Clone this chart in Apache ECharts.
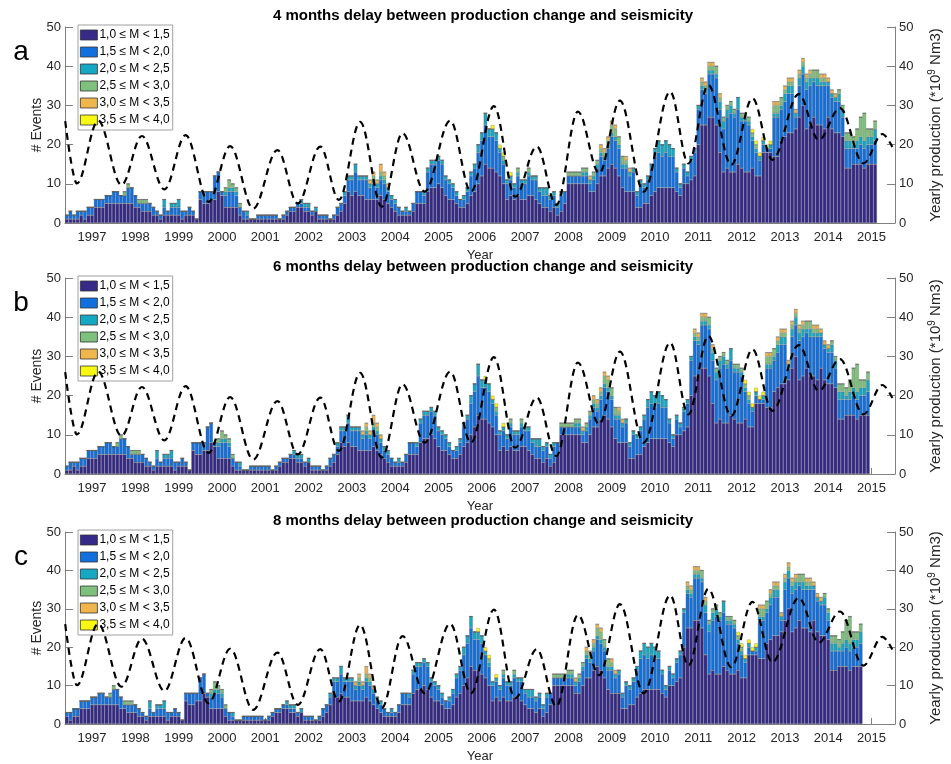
<!DOCTYPE html>
<html>
<head>
<meta charset="utf-8">
<title>Production change and seismicity</title>
<script src="https://cdn.jsdelivr.net/npm/echarts@6/dist/echarts.min.js"></script>
<style>
html, body { margin: 0; padding: 0; background: #fff; }
#chart { width: 951px; height: 764px; }
</style>
</head>
<body>
<div id="chart"></div>
<script>
// monthly number of events per magnitude class, one row per year (1996 starts in Oct, 2015 ends in Feb)
var m10 = [
  1,1,1,1,2,1,2,
  2,4,4,4,5,5,5,5,5,5,5,5,
  4,4,3,3,3,2,2,1,2,2,2,2,
  2,1,2,2,2,1,6,5,5,6,6,8,
  7,4,4,4,4,2,1,1,1,1,1,1,
  1,1,1,1,1,1,2,3,3,4,4,3,
  3,2,3,1,1,1,1,1,2,3,5,8,
  7,8,7,7,6,6,6,6,7,6,5,4,
  3,2,2,2,2,3,5,5,5,8,9,9,
  10,9,7,6,6,5,4,4,5,7,8,10,
  12,15,14,14,13,12,10,6,7,6,7,6,
  6,7,7,6,5,4,4,3,4,2,3,5,
  10,10,10,10,10,10,8,8,10,12,12,14,
  15,14,12,9,8,8,8,4,4,5,5,7,
  8,9,9,9,9,9,8,7,10,10,11,12,
  20,25,25,27,27,25,18,13,14,13,13,15,
  14,13,13,14,12,12,18,18,18,17,17,21,
  22,23,23,24,27,30,24,25,27,25,25,24,
  27,24,23,23,22,14,14,15,15,15,14,15,
  15,15
];
var m15 = [
  1,2,1,2,1,2,2,
  2,2,2,2,2,2,3,3,2,2,4,4,
  3,1,2,2,2,2,1,1,2,1,2,2,
  2,2,1,2,1,0,2,3,3,2,6,5,
  1,3,4,4,3,2,2,1,0,0,1,1,
  1,1,1,1,0,1,1,1,1,1,1,1,
  1,1,0,1,1,1,0,1,2,2,2,3,
  4,5,4,4,5,3,4,3,4,4,3,2,
  2,2,1,1,1,2,3,3,2,5,6,6,
  6,6,4,4,3,2,2,2,3,5,6,8,
  9,10,8,8,8,6,5,4,4,3,5,4,
  4,5,4,5,3,3,3,3,3,2,4,3,
  2,2,2,2,2,2,2,3,4,5,4,5,
  7,7,7,5,6,4,5,3,6,4,6,7,
  9,9,8,9,8,8,5,2,4,2,5,6,
  9,9,8,11,11,12,11,11,13,15,14,14,
  12,13,12,7,6,4,2,1,1,10,10,8,
  9,10,10,3,8,8,10,10,9,10,10,11,
  8,8,8,8,5,5,5,4,4,5,5,5,
  5,6
];
var m20 = [
  0,0,0,0,0,0,0,
  0,0,0,0,0,0,0,0,0,0,0,0,
  0,0,0,0,0,0,0,0,2,0,1,1,
  2,0,0,0,0,0,0,0,0,0,0,0,
  0,1,1,1,1,0,0,1,0,0,0,0,
  0,0,0,0,0,0,0,0,0,0,1,1,
  1,0,1,0,0,0,0,0,0,0,1,1,
  1,2,1,1,1,1,1,1,1,1,1,1,
  1,0,0,1,0,0,0,0,1,1,1,1,
  1,1,1,1,1,1,0,1,1,1,1,2,
  2,3,2,2,2,1,1,1,1,1,1,1,
  1,1,1,1,1,2,2,1,1,1,1,0,
  0,0,0,0,1,1,1,1,1,1,1,1,
  1,1,1,1,1,1,1,1,1,1,1,1,
  2,3,3,3,3,2,1,1,1,1,1,1,
  1,1,1,1,1,1,2,2,2,2,1,3,
  1,1,1,1,1,1,1,0,1,1,1,1,
  2,2,2,1,2,2,2,2,1,2,1,1,
  1,1,1,2,2,2,2,1,2,2,2,2,
  2,3
];
var m25 = [
  0,0,0,0,0,0,0,
  0,0,0,0,0,0,0,0,0,1,1,0,
  0,1,1,1,0,0,0,0,0,0,0,0,
  0,0,0,0,0,0,0,0,0,0,0,0,
  0,1,2,1,1,1,0,0,0,0,0,0,
  0,0,0,0,0,0,0,0,0,0,0,0,
  0,0,0,0,0,0,0,0,0,0,0,0,
  0,0,0,0,0,0,1,0,1,1,0,0,
  0,0,0,0,0,0,0,0,0,0,0,0,
  0,0,0,0,0,0,0,0,0,0,0,0,
  0,0,0,0,0,0,1,0,0,0,1,0,
  0,1,0,0,0,0,0,0,0,0,0,0,
  1,1,1,1,1,1,0,1,1,1,1,1,
  2,2,2,2,1,0,0,0,0,0,0,0,
  0,0,0,0,0,0,0,0,0,0,0,0,
  0,1,1,1,1,2,1,1,1,1,1,0,
  1,1,1,1,1,0,0,0,0,2,2,2,
  1,1,1,0,1,1,1,1,2,2,1,1,
  0,0,0,1,1,2,2,2,3,5,7,2,
  2,2
];
var m30 = [
  0,0,0,0,0,0,0,
  0,0,0,0,0,0,0,0,0,0,0,0,
  0,0,0,0,0,0,0,0,0,0,0,0,
  0,0,0,0,0,0,0,0,0,0,0,0,
  0,0,0,0,0,0,0,0,0,0,0,0,
  0,0,0,0,0,0,0,0,0,0,0,0,
  0,0,0,0,0,0,0,0,0,0,0,0,
  0,0,0,0,0,1,1,1,2,1,1,0,
  0,0,0,0,0,0,0,0,0,0,0,0,
  0,0,0,0,0,0,0,0,0,0,0,0,
  0,0,0,0,0,0,0,0,0,0,0,0,
  0,0,0,0,0,0,0,0,0,0,0,0,
  0,0,0,0,0,0,1,0,0,1,1,1,
  1,1,0,0,1,1,0,0,0,0,0,0,
  0,0,0,0,0,0,0,0,0,0,0,0,
  0,1,1,1,1,0,1,0,0,0,0,0,
  0,0,0,0,0,0,0,0,0,1,1,0,
  1,1,1,1,1,1,1,1,0,0,1,1,
  1,1,1,0,0,0,0,0,0,0,0,0,
  0,0
];
var m35 = [
  0,0,0,0,0,0,0,
  0,0,0,0,0,0,0,0,0,0,0,0,
  0,0,0,0,0,0,0,0,0,0,0,0,
  0,0,0,0,0,0,0,0,0,0,0,0,
  0,0,0,0,0,0,0,0,0,0,0,0,
  0,0,0,0,0,0,0,0,0,0,0,0,
  0,0,0,0,0,0,0,0,0,0,0,0,
  0,0,0,0,0,0,0,0,0,0,0,0,
  0,0,0,0,0,0,0,0,0,0,0,0,
  0,0,0,0,0,0,0,0,0,0,0,0,
  0,0,0,1,0,1,1,0,1,0,0,0,
  0,0,0,0,0,0,0,0,0,0,0,0,
  0,0,0,0,0,0,0,0,0,0,0,0,
  0,0,0,0,0,0,0,0,0,0,0,0,
  0,0,0,0,0,0,0,0,0,0,0,0,
  0,0,0,0,0,0,0,0,0,0,0,0,
  0,0,0,1,1,1,1,1,1,0,0,0,
  0,0,0,0,0,0,0,0,0,0,0,0,
  0,0,0,0,0,0,0,0,0,0,0,0,
  0,0
];

// first month of the seismicity record (Oct 1996) as decimal year
var firstMonth = 1996.75;
var delays = [4, 6, 8];
var panelLetters = ['a', 'b', 'c'];

var classNames = ['1,0 \u2264 M < 1,5', '1,5 \u2264 M < 2,0', '2,0 \u2264 M < 2,5',
                  '2,5 \u2264 M < 3,0', '3,0 \u2264 M < 3,5', '3,5 \u2264 M < 4,0'];
var classColors = ['#352a87', '#1170de', '#14a8c5', '#7ec17c', '#f1b64b', '#f8f810'];
var counts = [m10, m15, m20, m25, m30, m35];

// yearly production (*10^9 Nm3), read at the turning points of the curve
var prodYear = [1996.38, 1996.65, 1997.14, 1997.68, 1998.15, 1998.67, 1999.16, 1999.69,
  2000.19, 2000.72, 2001.28, 2001.75, 2002.27, 2002.70, 2003.19, 2003.69, 2004.17, 2004.68,
  2005.27, 2005.75, 2006.28, 2006.77, 2007.27, 2007.72, 2008.22, 2008.71, 2009.19, 2009.74,
  2010.35, 2010.77, 2011.23, 2011.76, 2012.25, 2012.71, 2013.32, 2013.78, 2014.27, 2014.81,
  2015.25, 2015.48];
var prodValue = [26, 10.1, 26.1, 9.7, 22.2, 8.6, 22.4, 5.4,
  19.6, 3.7, 18.6, 5.0, 19.5, 5.9, 25.8, 4.2, 22.9, 8.0,
  26.1, 8.0, 29.8, 6.7, 19.5, 4.6, 28.4, 12.7, 31.2, 8.0,
  33.5, 15.2, 35.2, 14.8, 31.8, 16.1, 32.9, 21.2, 29.3, 15.2,
  22.7, 19.4];

// month axis: first band is Jun 1996, 230 monthly bands
var axisStartYear = 1996, axisStartMonth = 6, axisMonths = 230;
var axisStart = axisStartYear + (axisStartMonth - 1) / 12;
var monthCats = [];
for (var j = 0; j < axisMonths; j++) {
  var mm = axisStartMonth - 1 + j;
  var yy = axisStartYear + Math.floor(mm / 12);
  var mo = (mm % 12) + 1;
  monthCats.push(yy + '-' + (mo < 10 ? '0' + mo : mo));
}
function isJanuary(idx, val) { return val.slice(5) === '01'; }

var FONT = '"Liberation Sans", Arial, sans-serif';
var tops = [27, 278, 532];
var heights = [196, 196, 195];

var chart = echarts.init(document.getElementById('chart'));

var grids = [], xAxes = [], yAxes = [], series = [], legends = [], graphics = [];

delays.forEach(function (delay, k) {
  grids.push({ left: 65, right: 49, top: tops[k], height: heights[k] });

  xAxes.push({
    type: 'category', gridIndex: k, data: monthCats, boundaryGap: true,
    name: 'Year', nameLocation: 'middle', nameGap: 26, nameMoveOverlap: false,
    nameTextStyle: { color: '#262626', fontSize: 13, fontFamily: FONT },
    splitLine: { show: false },
    axisLine: { show: true, lineStyle: { color: '#808080', width: 1 } },
    axisTick: { show: true, inside: true, length: 6, alignWithLabel: true, interval: isJanuary,
                lineStyle: { color: '#808080' } },
    axisLabel: { interval: isJanuary, margin: 8, color: '#262626', fontSize: 13,
                 fontFamily: FONT, formatter: function (v) { return v.slice(0, 4); } }
  });
  // hidden decimal-year axis for the production curve
  xAxes.push({
    type: 'value', gridIndex: k, show: false,
    min: axisStart - 1 / 24, max: axisStart - 1 / 24 + axisMonths / 12,
    splitLine: { show: false }
  });

  yAxes.push({
    type: 'value', gridIndex: k, min: 0, max: 50, interval: 10, position: 'left',
    name: '# Events', nameLocation: 'middle', nameRotate: 90, nameGap: 21, nameMoveOverlap: false,
    nameTextStyle: { color: '#262626', fontSize: 14, fontFamily: FONT },
    splitLine: { show: false },
    axisLine: { show: true, lineStyle: { color: '#808080', width: 1 } },
    axisTick: { show: true, inside: true, length: 8, lineStyle: { color: '#808080' } },
    axisLabel: { margin: 4, color: '#262626', fontSize: 13, fontFamily: FONT }
  });
  yAxes.push({
    type: 'value', gridIndex: k, min: 0, max: 50, interval: 10, position: 'right',
    name: '{a|Yearly production (*10}{s|9}{a| Nm3)}', nameLocation: 'middle',
    nameRotate: 90, nameGap: 32, nameMoveOverlap: false,
    nameTextStyle: {
      color: '#262626', fontSize: 15, fontFamily: FONT,
      rich: {
        a: { fontSize: 15, fontFamily: FONT, color: '#262626', lineHeight: 17 },
        s: { fontSize: 10, fontFamily: FONT, color: '#262626', verticalAlign: 'top', lineHeight: 17, padding: [0, 0, 6, 0] }
      }
    },
    splitLine: { show: false },
    axisLine: { show: true, lineStyle: { color: '#808080', width: 1 } },
    axisTick: { show: true, inside: true, length: 8, lineStyle: { color: '#808080' } },
    axisLabel: { margin: 4, color: '#262626', fontSize: 13, fontFamily: FONT }
  });

  // seismicity is plotted 'delay' months earlier
  var offset = Math.round((firstMonth - delay / 12 - axisStart) * 12);

  counts.forEach(function (vals, c) {
    var pts = [];
    vals.forEach(function (v, i) {
      var idx = i + offset;
      if (idx >= 0 && idx < axisMonths) pts.push([idx, v]);
    });
    series.push({
      type: 'bar', name: classNames[c], xAxisIndex: 2 * k, yAxisIndex: 2 * k,
      stack: 'panel' + k, barWidth: '100%',
      itemStyle: { color: classColors[c], borderColor: 'rgba(95,95,95,0.6)', borderWidth: 0.5 },
      emphasis: { disabled: true },
      data: pts
    });
  });

  series.push({
    type: 'line', name: 'production', xAxisIndex: 2 * k + 1, yAxisIndex: 2 * k + 1,
    smooth: 0.36, smoothMonotone: 'x', showSymbol: false, z: 5,
    lineStyle: { color: '#000', width: 2.2, type: [7, 5] },
    data: prodYear.map(function (x, i) { return [x, prodValue[i]]; })
  });

  legends.push({
    data: classNames, orient: 'vertical', left: 78, top: tops[k] - 2,
    icon: 'rect', itemWidth: 17, itemHeight: 10, itemGap: 5,
    padding: [4, 3, 4, 2], selectedMode: false,
    backgroundColor: '#fff', borderColor: '#a0a0a0', borderWidth: 1,
    itemStyle: { borderColor: '#333', borderWidth: 0.8 },
    textStyle: { color: '#000', fontSize: 12, fontFamily: FONT, padding: [0, 0, 0, -3] }
  });

  graphics.push({
    type: 'text', x: 483, y: tops[k] - 11,
    style: { text: delay + ' months delay between production change and seismicity',
             font: 'bold 15px ' + FONT, fill: '#000',
             textAlign: 'center', textVerticalAlign: 'middle', align: 'center', verticalAlign: 'middle' }
  });
  graphics.push({
    type: 'text', x: 21, y: tops[k] + 25,
    style: { text: panelLetters[k], font: '28px ' + FONT, fill: '#000',
             textAlign: 'center', textVerticalAlign: 'middle', align: 'center', verticalAlign: 'middle' }
  });
});

chart.setOption({
  animation: false,
  backgroundColor: '#fff',
  textStyle: { fontFamily: FONT },
  grid: grids,
  xAxis: xAxes,
  yAxis: yAxes,
  legend: legends,
  graphic: graphics,
  series: series
});
</script>
</body>
</html>
